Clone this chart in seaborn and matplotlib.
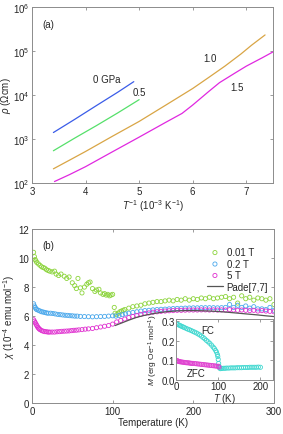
import numpy as np
import pandas as pd
import matplotlib
matplotlib.use("Agg")
import matplotlib.pyplot as plt
import seaborn as sns

# ---- panel (a): resistivity vs inverse temperature ----
inv_T_0 = [3.4, 3.8, 4.2, 4.6, 4.9]
rho_0 = [1400, 2800, 5700, 11500, 20000]
inv_T_05 = [3.4, 3.8, 4.2, 4.6, 5.0]
rho_05 = [540, 1050, 2000, 3900, 7800]
inv_T_10 = [3.4, 3.7, 4.0, 4.5, 5.0, 5.5, 6.0, 6.3, 6.6, 6.9, 7.1, 7.35]
rho_10 = [210, 330, 520, 1150, 2500, 5900, 14000, 25000, 45000, 85000, 135000, 230000]
inv_T_15 = [3.42, 3.7, 4.0, 4.5, 5.0, 5.5, 5.8, 6.0, 6.3, 6.5, 6.8, 7.0, 7.3, 7.5]
rho_15 = [108, 155, 235, 510, 1100, 2400, 3800, 5900, 12000, 19000, 32000, 45000, 70000, 95000]

# ---- panel (b): susceptibility vs temperature ----
T_001 = [2, 3, 4, 5, 6, 8, 10, 12, 14, 16, 18, 20, 22, 25, 28, 30, 33, 36, 40, 43, 46, 50, 53,
         55, 57, 60, 62, 65, 68, 70, 72, 75, 78, 80, 83, 85, 88, 90, 92, 94, 96, 98, 100, 102,
         103, 105, 107, 109, 111, 113, 115, 120, 125, 130, 135, 140, 145, 150, 155, 160, 165,
         170, 175, 180, 185, 190, 195, 200, 205, 210, 215, 220, 225, 230, 235, 240, 245, 250,
         255, 260, 265, 270, 275, 280, 285, 290, 295, 300]
chi_001 = [10.4, 10.1, 9.9, 9.8, 9.7, 9.6, 9.5, 9.4, 9.35, 9.3, 9.2, 9.15, 9.1, 9.05, 9.1, 8.9,
           8.8, 8.9, 8.75, 8.6, 8.7, 8.3, 8.1, 7.9, 8.6, 7.95, 7.6, 8.0, 8.2, 8.3, 8.35, 7.9,
           7.7, 7.8, 7.85, 7.6, 7.5, 7.55, 7.45, 7.5, 7.4, 7.45, 7.5, 6.6, 6.2, 6.1, 6.2, 6.3,
           6.35, 6.4, 6.45, 6.55, 6.65, 6.7, 6.75, 6.85, 6.9, 6.95, 7.0, 7.0, 7.05, 7.1, 7.05,
           7.15, 7.1, 7.2, 7.1, 7.2, 7.15, 7.25, 7.2, 7.3, 7.2, 7.25, 7.3, 7.35, 7.2, 7.3, 6.9,
           7.4, 7.2, 7.3, 7.1, 7.25, 7.2, 7.1, 7.2, 6.8]
T_02 = [2, 3, 4, 5, 6, 8, 10, 12, 14, 16, 18, 20, 23, 26, 29, 32, 35, 38, 41, 44, 47, 50, 53, 56,
        60, 65, 70, 75, 80, 85, 90, 95, 100, 104, 108, 112, 116, 120, 125, 130, 135, 140, 145,
        150, 155, 160, 165, 170, 175, 180, 185, 190, 195, 200, 205, 210, 215, 220, 225, 230,
        235, 240, 245, 250, 255, 260, 265, 270, 275, 280, 285, 290, 295, 300]
chi_02 = [6.85, 6.7, 6.6, 6.5, 6.45, 6.4, 6.35, 6.3, 6.28, 6.25, 6.22, 6.2, 6.2, 6.18, 6.15,
          6.12, 6.1, 6.08, 6.06, 6.05, 6.03, 6.02, 6.0, 6.0, 5.98, 5.97, 5.96, 5.95, 5.96, 5.97,
          5.98, 6.0, 6.02, 6.0, 6.05, 6.1, 6.15, 6.2, 6.25, 6.3, 6.35, 6.38, 6.4, 6.43, 6.45,
          6.47, 6.48, 6.5, 6.52, 6.53, 6.54, 6.55, 6.56, 6.57, 6.57, 6.58, 6.58, 6.58, 6.58,
          6.57, 6.58, 6.6, 6.8, 6.6, 6.75, 6.6, 6.7, 6.55, 6.65, 6.5, 6.5, 6.45, 6.6, 6.4]
T_5 = [2, 3, 4, 5, 6, 7, 8, 9, 10, 12, 14, 16, 18, 20, 22, 25, 28, 31, 34, 37, 40, 43, 46, 49,
       52, 55, 58, 62, 66, 70, 75, 80, 85, 90, 95, 100, 105, 110, 115, 120, 125, 130, 135, 140,
       145, 150, 155, 160, 165, 170, 175, 180, 185, 190, 195, 200, 205, 210, 215, 220, 225, 230,
       235, 240, 245, 250, 255, 260, 265, 270, 275, 280, 285, 290, 295, 300]
chi_5 = [5.75, 5.65, 5.55, 5.45, 5.35, 5.25, 5.18, 5.12, 5.07, 5.0, 4.96, 4.93, 4.92, 4.9, 4.9,
         4.9, 4.9, 4.92, 4.93, 4.95, 4.96, 4.97, 4.98, 5.0, 5.02, 5.03, 5.05, 5.07, 5.1, 5.12,
         5.15, 5.2, 5.25, 5.3, 5.35, 5.45, 5.6, 5.7, 5.8, 5.9, 5.98, 6.05, 6.12, 6.18, 6.22,
         6.27, 6.3, 6.33, 6.35, 6.37, 6.38, 6.4, 6.4, 6.41, 6.42, 6.42, 6.42, 6.43, 6.43, 6.42,
         6.43, 6.42, 6.43, 6.42, 6.45, 6.42, 6.4, 6.42, 6.4, 6.38, 6.4, 6.35, 6.38, 6.35, 6.33,
         6.3]
T_pade = [103, 110, 120, 130, 140, 150, 160, 170, 180, 190, 200, 210, 220, 230, 240, 250, 260,
          270, 280, 290, 300]
chi_pade = [5.35, 5.5, 5.72, 5.92, 6.06, 6.17, 6.26, 6.32, 6.36, 6.38, 6.38, 6.37, 6.35, 6.32,
            6.28, 6.23, 6.18, 6.13, 6.08, 6.02, 5.97]

# ---- inset: FC / ZFC magnetization ----
T_fc = [2, 5, 8, 11, 14, 17, 20, 24, 28, 32, 36, 40, 44, 48, 52, 56, 60, 64, 68, 72, 76, 80, 84,
        88, 91, 94, 96, 98, 99, 100, 101, 102, 103, 105, 108, 112, 116, 120, 125, 130, 135, 140,
        145, 150, 155, 160, 165, 170, 175, 180, 185, 190, 195, 200]
M_fc = [0.285, 0.282, 0.279, 0.276, 0.273, 0.27, 0.267, 0.263, 0.259, 0.256, 0.252, 0.248,
        0.244, 0.24, 0.235, 0.23, 0.224, 0.217, 0.21, 0.202, 0.195, 0.187, 0.178, 0.168, 0.16,
        0.15, 0.142, 0.13, 0.12, 0.105, 0.085, 0.07, 0.062, 0.058, 0.059, 0.06, 0.06, 0.061,
        0.061, 0.062, 0.062, 0.062, 0.063, 0.063, 0.063, 0.064, 0.064, 0.064, 0.065, 0.065,
        0.065, 0.065, 0.066, 0.065]
T_zfc = [2, 4, 6, 8, 10, 13, 16, 19, 22, 25, 28, 31, 34, 37, 40, 44, 48, 52, 56, 60, 64, 68, 72,
         76, 80, 84, 88, 92, 96, 100, 102]
M_zfc = [0.1, 0.097, 0.095, 0.094, 0.093, 0.092, 0.091, 0.09, 0.089, 0.088, 0.088, 0.087,
         0.086, 0.085, 0.085, 0.084, 0.083, 0.082, 0.081, 0.08, 0.079, 0.078, 0.077, 0.076,
         0.075, 0.074, 0.073, 0.072, 0.071, 0.07, 0.066]

sns.set_style("ticks")
plt.rcParams['font.family'] = ['Liberation Sans', 'DejaVu Sans']
plt.rcParams['font.size'] = 7
plt.rcParams['mathtext.fontset'] = 'custom'
plt.rcParams['mathtext.rm'] = 'Liberation Sans'
plt.rcParams['mathtext.it'] = 'Liberation Sans:italic'

fig = plt.figure(figsize=(2.83, 4.35), dpi=100)
ax1 = fig.add_axes([0.113, 0.577, 0.852, 0.405])
ax2 = fig.add_axes([0.113, 0.071, 0.855, 0.4])


def style_ax(ax):
    for s in ax.spines.values():
        s.set_color('#8c8c8c')
        s.set_linewidth(0.7)
    ax.tick_params(direction='in', top=True, right=True, length=2.5, width=0.6,
                   color='#8c8c8c', labelsize=7, pad=2)


# panel (a)
c_a = {'0': '#3a5ce8', '0.5': '#55e06a', '1.0': '#d9a545', '1.5': '#e028e0'}
for xs, ys, k in [(inv_T_0, rho_0, '0'), (inv_T_05, rho_05, '0.5'),
                  (inv_T_10, rho_10, '1.0'), (inv_T_15, rho_15, '1.5')]:
    sns.lineplot(x=xs, y=ys, ax=ax1, color=c_a[k], lw=0.9, sort=False)
ax1.set_yscale('log')
ax1.set_xlim(3, 7.5)
ax1.set_ylim(1e2, 1e6)
ax1.set_xticks([3, 4, 5, 6, 7])
ax1.set_yticks([1e2, 1e3, 1e4, 1e5, 1e6])
ax1.minorticks_off()
ax1.set_xlabel(r'$T^{-1}$ (10$^{-3}$ K$^{-1}$)', labelpad=1)
ax1.set_ylabel(r'$\rho$ ($\Omega$cm)')
ax1.yaxis.set_label_coords(-0.077, 0.5)
style_ax(ax1)
ax1.tick_params(axis='y', pad=1.5)
ax1.text(3.2, 3.5e5, '(a)', fontsize=7)
ax1.text(4.13, 2.0e4, '0 GPa', fontsize=7)
ax1.text(4.88, 1.0e4, '0.5', fontsize=7)
ax1.text(6.2, 6.0e4, '1.0', fontsize=7)
ax1.text(6.7, 1.3e4, '1.5', fontsize=7)

# panel (b)
mk = dict(marker='o', s=9, facecolor='none', linewidth=0.6)
sns.scatterplot(x=T_001, y=chi_001, ax=ax2, edgecolor='#8cd43c', label='0.01 T', **mk)
sns.scatterplot(x=T_02, y=chi_02, ax=ax2, edgecolor='#4aa8ec', label='0.2 T', **mk)
sns.scatterplot(x=T_5, y=chi_5, ax=ax2, edgecolor='#e030d0', label='5 T', **mk)
sns.lineplot(x=T_pade, y=chi_pade, ax=ax2, color='#555555', lw=0.9, label='Pade[7,7]')
ax2.set_xlim(0, 300)
ax2.set_ylim(0, 12)
ax2.set_xticks([0, 100, 200, 300])
ax2.set_yticks([0, 2, 4, 6, 8, 10, 12])
ax2.set_xlabel('Temperature (K)', labelpad=1)
ax2.set_ylabel(r'$\chi$ (10$^{-4}$ emu mol$^{-1}$)', labelpad=1)
style_ax(ax2)
ax2.text(13, 10.7, '(b)', fontsize=7)
ax2.legend(loc='upper right', bbox_to_anchor=(1.0, 0.93), frameon=False, fontsize=7,
           handlelength=1.6, handletextpad=0.4, labelspacing=0.15, borderaxespad=0.2)

# inset
ax3 = fig.add_axes([0.622, 0.124, 0.343, 0.14])
ax3.set_facecolor('white')
sns.scatterplot(x=T_fc, y=M_fc, ax=ax3, edgecolor='#40d8d0', **mk)
sns.scatterplot(x=T_zfc, y=M_zfc, ax=ax3, edgecolor='#e040d0', **mk)
ax3.set_xlim(0, 230)
ax3.set_ylim(0, 0.31)
ax3.set_xticks([0, 100, 200])
ax3.set_yticks([0.0, 0.1, 0.2, 0.3])
ax3.set_yticklabels(['0.0', '0.1', '0.2', '0.3'])
ax3.set_xlabel(r'$T$ (K)', labelpad=0, fontsize=7)
ax3.set_ylabel(r'$M$ (erg Oe$^{-1}$ mol$^{-1}$)', labelpad=1, fontsize=6)
style_ax(ax3)
ax3.tick_params(labelsize=7, pad=1)
ax3.text(60, 0.24, 'FC', fontsize=7)
ax3.text(25, 0.02, 'ZFC', fontsize=7)

fig.savefig('out.png', dpi=100)
